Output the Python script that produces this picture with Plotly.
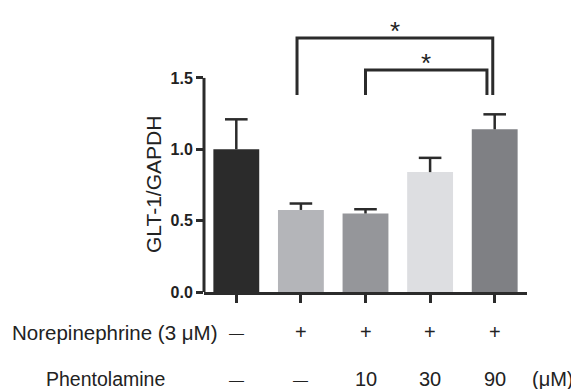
import plotly.graph_objects as go

# ---- data ----
groups = ["Control", "NE", "NE+Phen10", "NE+Phen30", "NE+Phen90"]
means = [1.00, 0.575, 0.55, 0.84, 1.14]
sems = [0.21, 0.045, 0.03, 0.10, 0.105]
bar_colors = ["#2b2b2b", "#b4b5b9", "#95969a", "#dddee1", "#7f8084"]
ne_row = ["\u2014", "+", "+", "+", "+"]
phen_row = ["\u2014", "\u2014", "10", "30", "90"]
y_ticks = [0.0, 0.5, 1.0, 1.5]
y_ticktext = ["0.0", "0.5", "1.0", "1.5"]
# significance brackets: (left group, right group, bracket height, asterisk)
brackets = [(1, 4, 1.78, "*"), (2, 4, 1.556, "*")]

INK = "#2b2b2b"
FONT = "Liberation Sans, Arial, sans-serif"
xs = list(range(len(groups)))

fig = go.Figure()
fig.add_trace(go.Bar(
    x=xs, y=means, marker=dict(color=bar_colors, line=dict(width=0)),
    width=0.71, showlegend=False, hoverinfo="skip",
))

shapes = []
# error bars (upper only)
for i, (m, s) in enumerate(zip(means, sems)):
    shapes.append(dict(type="line", xref="x", yref="y", x0=i, x1=i, y0=m, y1=m + s,
                       line=dict(color=INK, width=2.5), layer="above"))
    shapes.append(dict(type="line", xref="x", yref="y", x0=i - 0.175, x1=i + 0.175,
                       y0=m + s, y1=m + s, line=dict(color=INK, width=2.5), layer="above"))

# y axis line from 0 to 1.5
shapes.append(dict(type="line", xref="paper", yref="y", x0=0, x1=0, y0=0, y1=y_ticks[-1],
                   line=dict(color=INK, width=3)))

annotations = []
# brackets
for (a, b, h, star) in brackets:
    xl = a - 0.06 if a == 1 else a
    xr = b - 0.03 if a == 1 else b - 0.12
    foot = 1.38
    shapes.append(dict(type="path", xref="x", yref="y",
                       path=f"M {xl},{foot} L {xl},{h} L {xr},{h} L {xr},{foot}",
                       line=dict(color=INK, width=3)))
    annotations.append(dict(x=(xl + xr) / 2, y=h, xref="x", yref="y", text=star,
                            showarrow=False, yanchor="bottom", yshift=-10,
                            font=dict(family=FONT, size=26, color="#222")))

# y title
annotations.append(dict(x=0, y=0.75, xref="paper", yref="y", text="GLT-1/GAPDH",
                        textangle=-90, showarrow=False, xanchor="center", yanchor="middle",
                        xshift=-50, font=dict(family=FONT, size=21, color="#222")))

# treatment rows
annotations.append(dict(x=0, y=0, xref="paper", yref="paper", text="Norepinephrine (3 \u03bcM)",
                        showarrow=False, xanchor="right", yanchor="middle", xshift=16, yshift=-40,
                        font=dict(family=FONT, size=20.5, color="#222")))
annotations.append(dict(x=0, y=0, xref="paper", yref="paper", text="Phentolamine",
                        showarrow=False, xanchor="right", yanchor="middle", xshift=-37, yshift=-87,
                        font=dict(family=FONT, size=19.5, color="#222")))
for i, t in enumerate(ne_row):
    annotations.append(dict(x=i, y=0, xref="x", yref="paper", text=t, showarrow=False,
                            xanchor="center", yanchor="middle", yshift=-40,
                            font=dict(family=FONT, size=20 if t != "\u2014" else 15, color="#222")))
for i, t in enumerate(phen_row):
    annotations.append(dict(x=i, y=0, xref="x", yref="paper", text=t, showarrow=False,
                            xanchor="center", yanchor="middle", yshift=-87,
                            font=dict(family=FONT, size=20 if t != "\u2014" else 15, color="#222")))
annotations.append(dict(x=len(groups) - 1, y=0, xref="x", yref="paper", text="(\u03bcM)",
                        showarrow=False, xanchor="center", yanchor="middle", xshift=58, yshift=-87,
                        font=dict(family=FONT, size=20, color="#222")))

# the page places the figure 8px from the top-left corner, so the figure is 8px smaller
fig.update_layout(
    width=571, height=381,
    margin=dict(l=196, r=52, t=6, b=97),
    paper_bgcolor="white", plot_bgcolor="white",
    shapes=shapes, annotations=annotations,
    xaxis=dict(range=[-0.5, len(groups) - 0.5], tickvals=xs, ticktext=[""] * len(groups),
               showgrid=False, zeroline=False, showline=True, linecolor=INK, linewidth=3,
               ticks="outside", ticklen=8, tickwidth=2.5, tickcolor=INK, fixedrange=True),
    yaxis=dict(range=[0, 1.948], tickvals=y_ticks, ticktext=y_ticktext,
               showgrid=False, zeroline=False, showline=False,
               ticks="outside", ticklen=7, tickwidth=2.5, tickcolor=INK,
               tickfont=dict(family=FONT, size=16, color="#222", weight="bold"),
               fixedrange=True),
)

fig.write_html("out.html")
